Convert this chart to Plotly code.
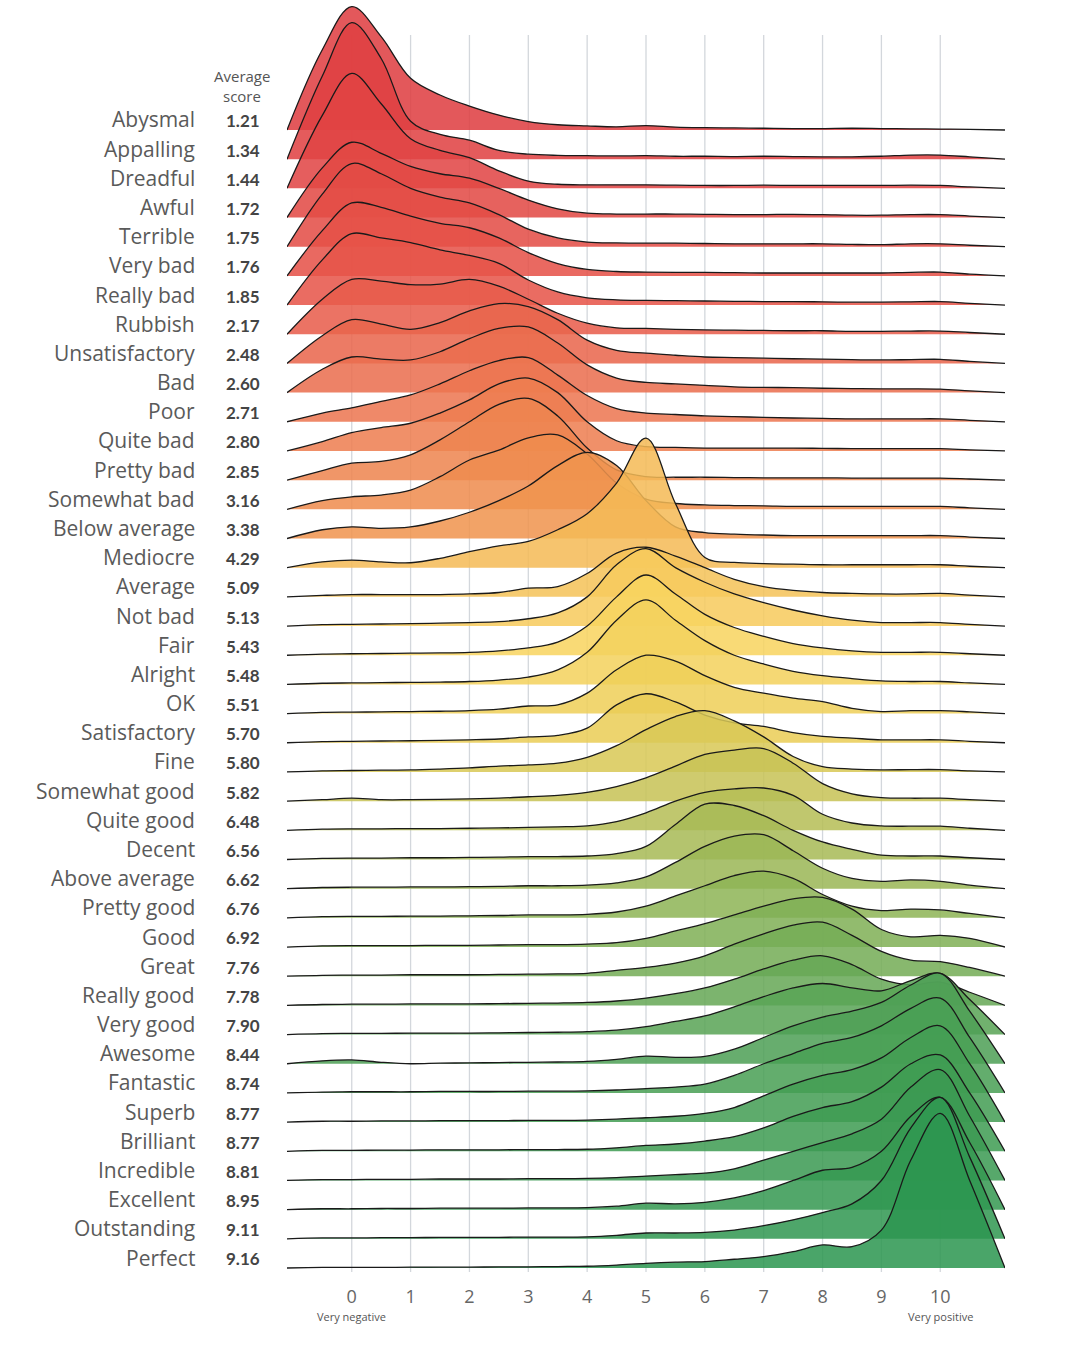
import plotly.graph_objects as go

# ---------------- data ----------------
words = ["Abysmal", "Appalling", "Dreadful", "Awful", "Terrible", "Very bad", "Really bad",
         "Rubbish", "Unsatisfactory", "Bad", "Poor", "Quite bad", "Pretty bad", "Somewhat bad",
         "Below average", "Mediocre", "Average", "Not bad", "Fair", "Alright", "OK",
         "Satisfactory", "Fine", "Somewhat good", "Quite good", "Decent", "Above average",
         "Pretty good", "Good", "Great", "Really good", "Very good", "Awesome", "Fantastic",
         "Superb", "Brilliant", "Incredible", "Excellent", "Outstanding", "Perfect"]

avg_scores = ["1.21", "1.34", "1.44", "1.72", "1.75", "1.76", "1.85", "2.17", "2.48", "2.60",
              "2.71", "2.80", "2.85", "3.16", "3.38", "4.29", "5.09", "5.13", "5.43", "5.48",
              "5.51", "5.70", "5.80", "5.82", "6.48", "6.56", "6.62", "6.76", "6.92", "7.76",
              "7.78", "7.90", "8.44", "8.74", "8.77", "8.77", "8.81", "8.95", "9.11", "9.16"]

score_grid = [-1.1, -0.5, 0, 0.5, 1, 1.5, 2, 2.5, 3, 3.5, 4, 4.5, 5, 5.5, 6, 6.5, 7, 7.5,
              8, 8.5, 9, 9.5, 10, 10.5, 11.1]

tick_vals = [0, 1, 2, 3, 4, 5, 6, 7, 8, 9, 10]

# relative density (in units of row spacing) at score_grid, one list per word
dens_abysmal = [0, 2.75, 4.23, 3.2, 1.77, 1.2, 0.82, 0.51, 0.29, 0.18, 0.14, 0.11, 0.15, 0.1, 0.08, 0.07, 0.06, 0.05, 0.05, 0.06, 0.05, 0.04, 0.03, 0.02, 0]
dens_appalling = [0, 2.85, 4.68, 3.45, 1.3, 0.85, 0.65, 0.3, 0.17, 0.13, 0.12, 0.11, 0.12, 0.1, 0.1, 0.09, 0.1, 0.09, 0.08, 0.08, 0.1, 0.14, 0.14, 0.08, 0]
dens_dreadful = [0, 2.5, 3.94, 2.9, 1.7, 1.3, 1.05, 0.6, 0.25, 0.14, 0.12, 0.12, 0.12, 0.11, 0.1, 0.1, 0.11, 0.1, 0.1, 0.1, 0.1, 0.11, 0.1, 0.05, 0]
dens_awful = [0, 1.7, 2.58, 2.2, 1.75, 1.5, 1.35, 1.0, 0.6, 0.3, 0.15, 0.12, 0.12, 0.12, 0.11, 0.1, 0.1, 0.11, 0.1, 0.08, 0.08, 0.1, 0.1, 0.05, 0]
dens_terrible = [0, 1.8, 2.85, 2.5, 2.0, 1.7, 1.5, 1.1, 0.6, 0.3, 0.16, 0.13, 0.12, 0.12, 0.11, 0.1, 0.1, 0.1, 0.1, 0.08, 0.07, 0.1, 0.1, 0.05, 0]
dens_very_bad = [0, 1.55, 2.5, 2.35, 2.05, 1.8, 1.65, 1.3, 0.8, 0.42, 0.22, 0.15, 0.13, 0.12, 0.12, 0.11, 0.1, 0.1, 0.1, 0.1, 0.1, 0.12, 0.13, 0.06, 0]
dens_really_bad = [0, 1.55, 2.45, 2.3, 2.14, 1.89, 1.7, 1.43, 0.86, 0.45, 0.25, 0.18, 0.16, 0.15, 0.14, 0.13, 0.12, 0.12, 0.11, 0.1, 0.1, 0.11, 0.12, 0.06, 0]
dens_rubbish = [0, 1.2, 1.88, 1.82, 1.7, 1.72, 1.88, 1.65, 1.2, 0.72, 0.38, 0.22, 0.2, 0.17, 0.15, 0.14, 0.13, 0.12, 0.12, 0.1, 0.1, 0.11, 0.11, 0.06, 0]
dens_unsatisfactory = [0, 0.95, 1.5, 1.35, 1.17, 1.4, 1.8, 2.05, 1.95, 1.5, 0.8, 0.45, 0.35, 0.28, 0.22, 0.2, 0.18, 0.16, 0.15, 0.13, 0.12, 0.13, 0.14, 0.07, 0]
dens_bad = [0, 0.8, 1.22, 1.15, 1.12, 1.4, 1.85, 2.2, 2.25, 1.7, 0.95, 0.5, 0.35, 0.3, 0.25, 0.2, 0.18, 0.17, 0.15, 0.14, 0.13, 0.13, 0.12, 0.06, 0]
dens_poor = [0, 0.3, 0.48, 0.7, 0.92, 1.3, 1.75, 2.1, 2.2, 1.6, 0.9, 0.45, 0.3, 0.25, 0.2, 0.18, 0.15, 0.13, 0.12, 0.1, 0.1, 0.1, 0.1, 0.05, 0]
dens_quite_bad = [0, 0.32, 0.63, 0.8, 0.95, 1.3, 1.75, 2.3, 2.5, 2.0, 1.0, 0.35, 0.15, 0.12, 0.1, 0.1, 0.1, 0.1, 0.09, 0.08, 0.08, 0.08, 0.08, 0.04, 0]
dens_pretty_bad = [0, 0.33, 0.58, 0.64, 0.87, 1.38, 2.0, 2.6, 2.8, 2.2, 1.1, 0.35, 0.12, 0.1, 0.1, 0.09, 0.08, 0.08, 0.08, 0.07, 0.07, 0.07, 0.07, 0.04, 0]
dens_somewhat_bad = [0, 0.3, 0.43, 0.49, 0.66, 1.12, 1.69, 2.03, 2.45, 2.55, 1.9, 0.9, 0.35, 0.2, 0.15, 0.13, 0.12, 0.1, 0.1, 0.1, 0.1, 0.1, 0.1, 0.05, 0]
dens_below_average = [0, 0.3, 0.4, 0.35, 0.4, 0.6, 0.9, 1.3, 1.8, 2.5, 2.95, 2.5, 1.3, 0.4, 0.2, 0.15, 0.12, 0.1, 0.1, 0.1, 0.1, 0.1, 0.1, 0.05, 0]
dens_mediocre = [0, 0.2, 0.26, 0.2, 0.17, 0.32, 0.55, 0.75, 0.9, 1.3, 1.85, 2.9, 4.44, 2.2, 0.35, 0.18, 0.14, 0.12, 0.1, 0.1, 0.1, 0.1, 0.1, 0.05, 0]
dens_average = [0, 0.05, 0.08, 0.08, 0.08, 0.08, 0.1, 0.15, 0.3, 0.35, 0.8, 1.5, 1.7, 1.4, 1.0, 0.6, 0.35, 0.22, 0.15, 0.12, 0.1, 0.1, 0.12, 0.06, 0]
dens_not_bad = [0, 0.05, 0.06, 0.07, 0.08, 0.1, 0.12, 0.15, 0.25, 0.45, 1.0, 2.1, 2.65, 2.0, 1.5, 1.1, 0.8, 0.55, 0.35, 0.2, 0.12, 0.12, 0.12, 0.06, 0]
dens_fair = [0, 0.04, 0.05, 0.06, 0.07, 0.08, 0.1, 0.15, 0.25, 0.45, 1.0, 2.0, 2.75, 2.1, 1.4, 0.95, 0.65, 0.4, 0.25, 0.15, 0.1, 0.1, 0.1, 0.05, 0]
dens_alright = [0, 0.04, 0.05, 0.06, 0.07, 0.08, 0.1, 0.15, 0.25, 0.5, 1.1, 2.2, 2.9, 2.2, 1.5, 1.0, 0.7, 0.45, 0.3, 0.2, 0.12, 0.1, 0.1, 0.05, 0]
dens_ok = [0, 0.04, 0.05, 0.06, 0.07, 0.08, 0.1, 0.15, 0.26, 0.3, 0.7, 1.5, 2.0, 1.8, 1.3, 0.9, 0.7, 0.53, 0.41, 0.18, 0.07, 0.1, 0.1, 0.06, 0]
dens_satisfactory = [0, 0.04, 0.05, 0.06, 0.07, 0.08, 0.1, 0.13, 0.2, 0.25, 0.5, 1.3, 1.68, 1.4, 0.95, 0.68, 0.56, 0.35, 0.22, 0.16, 0.1, 0.1, 0.1, 0.05, 0]
dens_fine = [0, 0.04, 0.05, 0.06, 0.07, 0.1, 0.14, 0.2, 0.24, 0.3, 0.5, 0.9, 1.45, 1.9, 2.1, 1.75, 1.2, 0.53, 0.18, 0.1, 0.07, 0.08, 0.08, 0.04, 0]
dens_somewhat_good = [0, 0.05, 0.1, 0.05, 0.05, 0.06, 0.08, 0.1, 0.15, 0.2, 0.3, 0.5, 0.8, 1.2, 1.6, 1.75, 1.8, 1.3, 0.6, 0.25, 0.12, 0.1, 0.1, 0.05, 0]
dens_quite_good = [0, 0.04, 0.05, 0.05, 0.06, 0.06, 0.07, 0.08, 0.1, 0.12, 0.15, 0.3, 0.6, 1.0, 1.3, 1.42, 1.45, 1.2, 0.55, 0.25, 0.15, 0.14, 0.14, 0.07, 0]
dens_decent = [0, 0.04, 0.05, 0.05, 0.06, 0.06, 0.07, 0.08, 0.1, 0.1, 0.12, 0.2, 0.45, 1.2, 1.9, 1.85, 1.5, 1.0, 0.6, 0.35, 0.15, 0.12, 0.12, 0.06, 0]
dens_above_average = [0, 0.04, 0.05, 0.05, 0.06, 0.06, 0.07, 0.08, 0.1, 0.1, 0.12, 0.2, 0.4, 0.9, 1.45, 1.8, 1.85, 1.3, 0.7, 0.35, 0.25, 0.3, 0.25, 0.12, 0]
dens_pretty_good = [0, 0.04, 0.05, 0.05, 0.06, 0.06, 0.07, 0.08, 0.1, 0.1, 0.12, 0.2, 0.4, 0.75, 1.1, 1.45, 1.6, 1.35, 0.8, 0.4, 0.25, 0.3, 0.27, 0.15, 0]
dens_good = [0, 0.04, 0.05, 0.05, 0.05, 0.06, 0.06, 0.07, 0.08, 0.08, 0.1, 0.15, 0.3, 0.55, 0.8, 1.1, 1.4, 1.65, 1.7, 1.3, 0.6, 0.35, 0.4, 0.3, 0]
dens_great = [0, 0.03, 0.04, 0.04, 0.05, 0.05, 0.05, 0.06, 0.07, 0.08, 0.1, 0.2, 0.3, 0.45, 0.7, 1.1, 1.45, 1.75, 1.85, 1.4, 0.85, 0.55, 0.5, 0.3, 0]
dens_really_good = [0, 0.03, 0.04, 0.04, 0.05, 0.05, 0.05, 0.06, 0.07, 0.08, 0.1, 0.15, 0.25, 0.4, 0.6, 0.9, 1.25, 1.55, 1.7, 1.4, 0.9, 0.7, 0.8, 0.45, 0]
dens_very_good = [0, 0.03, 0.04, 0.04, 0.05, 0.05, 0.05, 0.06, 0.07, 0.08, 0.1, 0.15, 0.27, 0.45, 0.64, 0.95, 1.3, 1.6, 1.75, 1.6, 1.5, 1.85, 2.1, 1.2, 0]
dens_awesome = [0, 0.1, 0.13, 0.05, 0.0, 0.02, 0.03, 0.04, 0.05, 0.06, 0.08, 0.15, 0.26, 0.22, 0.25, 0.5, 0.9, 1.3, 1.6, 1.8, 2.1, 2.7, 3.1, 1.8, 0]
dens_fantastic = [0, 0.03, 0.04, 0.04, 0.04, 0.05, 0.05, 0.05, 0.06, 0.06, 0.07, 0.1, 0.15, 0.2, 0.3, 0.6, 1.0, 1.35, 1.7, 1.9, 2.3, 2.9, 3.25, 1.9, 0]
dens_superb = [0, 0.03, 0.03, 0.04, 0.04, 0.05, 0.05, 0.05, 0.06, 0.06, 0.07, 0.1, 0.15, 0.2, 0.3, 0.5, 0.9, 1.3, 1.6, 1.8, 2.2, 2.9, 3.3, 2.0, 0]
dens_brilliant = [0, 0.03, 0.03, 0.04, 0.04, 0.05, 0.05, 0.05, 0.06, 0.06, 0.07, 0.12, 0.2, 0.25, 0.35, 0.5, 0.8, 1.2, 1.5, 1.7, 2.2, 3.0, 3.3, 2.0, 0]
dens_incredible = [0, 0.03, 0.03, 0.04, 0.04, 0.05, 0.05, 0.05, 0.06, 0.06, 0.07, 0.1, 0.15, 0.2, 0.25, 0.4, 0.7, 1.0, 1.3, 1.6, 2.1, 3.2, 3.8, 2.2, 0]
dens_excellent = [0, 0.03, 0.03, 0.04, 0.04, 0.05, 0.05, 0.05, 0.06, 0.06, 0.07, 0.12, 0.22, 0.2, 0.25, 0.4, 0.65, 1.0, 1.35, 1.45, 2.0, 3.2, 3.85, 2.3, 0]
dens_outstanding = [0, 0.03, 0.03, 0.04, 0.04, 0.05, 0.05, 0.05, 0.06, 0.06, 0.07, 0.12, 0.2, 0.2, 0.22, 0.3, 0.45, 0.65, 0.9, 1.2, 2.0, 3.8, 4.85, 2.8, 0]
dens_perfect = [0, 0.02, 0.02, 0.02, 0.03, 0.03, 0.03, 0.04, 0.04, 0.05, 0.06, 0.1, 0.16, 0.2, 0.22, 0.3, 0.39, 0.56, 0.79, 0.73, 1.3, 3.7, 5.3, 3.0, 0]

densities = [dens_abysmal, dens_appalling, dens_dreadful, dens_awful, dens_terrible, dens_very_bad,
             dens_really_bad, dens_rubbish, dens_unsatisfactory, dens_bad, dens_poor, dens_quite_bad,
             dens_pretty_bad, dens_somewhat_bad, dens_below_average, dens_mediocre, dens_average,
             dens_not_bad, dens_fair, dens_alright, dens_ok, dens_satisfactory, dens_fine,
             dens_somewhat_good, dens_quite_good, dens_decent, dens_above_average, dens_pretty_good,
             dens_good, dens_great, dens_really_good, dens_very_good, dens_awesome, dens_fantastic,
             dens_superb, dens_brilliant, dens_incredible, dens_excellent, dens_outstanding,
             dens_perfect]

# ---------------- styling ----------------
color_stops = [(0, (222, 60, 64)), (6, (230, 84, 72)), (10, (236, 118, 80)), (14, (240, 148, 78)),
               (15, (244, 186, 86)), (18, (248, 212, 96)), (21, (234, 205, 86)), (24, (182, 190, 86)),
               (28, (128, 176, 86)), (32, (78, 160, 86)), (39, (44, 150, 80))]


def row_color(i, alpha):
    for (i0, c0), (i1, c1) in zip(color_stops[:-1], color_stops[1:]):
        if i0 <= i <= i1:
            t = (i - i0) / (i1 - i0)
            c = [round(a + (b - a) * t) for a, b in zip(c0, c1)]
            return f"rgba({c[0]},{c[1]},{c[2]},{alpha})"
    return "rgba(0,0,0,1)"


n = len(words)
fig = go.Figure()

for i, (word, dens) in enumerate(zip(words, densities)):
    base = n - 1 - i
    fig.add_trace(go.Scatter(x=[score_grid[0], score_grid[-1]], y=[base, base], mode="lines",
                             line=dict(width=0, color="rgba(0,0,0,0)"), hoverinfo="skip",
                             showlegend=False))
    fig.add_trace(go.Scatter(x=score_grid, y=[base + d for d in dens], mode="lines",
                             line=dict(color="#1a1a1a", width=1.3, shape="spline", smoothing=1.0),
                             fill="tonexty", fillcolor=row_color(i, 0.86), name=word,
                             showlegend=False))

# grid lines (shorter than the plot area, stop below the top)
for v in tick_vals:
    fig.add_shape(type="line", xref="x", yref="paper", x0=v, x1=v, y0=0, y1=0.9725,
                  line=dict(color="#d3d7dc", width=1.3), layer="below")

# row labels + average scores
for i, (word, sc) in enumerate(zip(words, avg_scores)):
    base = n - 1 - i
    fig.add_annotation(x=-0.1253, xref="paper", y=base + 0.36, yref="y", text=word,
                       showarrow=False, xanchor="right", yanchor="middle",
                       font=dict(family="Open Sans", size=21, color="#5a5a5a"))
    fig.add_annotation(x=-0.0878, xref="paper", y=base + 0.31, yref="y", text=f"<b>{sc}</b>",
                       showarrow=False, xanchor="left", yanchor="middle",
                       font=dict(family="Lato", size=17, color="#444444"))

fig.add_annotation(x=-0.0627, xref="paper", y=0.9405, yref="paper", text="Average",
                   showarrow=False, xanchor="center", yanchor="middle",
                   font=dict(family="Open Sans", size=15, color="#555555"))
fig.add_annotation(x=-0.0627, xref="paper", y=0.9245, yref="paper", text="score",
                   showarrow=False, xanchor="center", yanchor="middle",
                   font=dict(family="Open Sans", size=15, color="#555555"))

fig.add_annotation(x=0, xref="x", y=-0.035, yref="paper", text="Very negative", showarrow=False,
                   xanchor="center", yanchor="middle", font=dict(family="Open Sans", size=11, color="#555555"))
fig.add_annotation(x=10, xref="x", y=-0.035, yref="paper", text="Very positive", showarrow=False,
                   xanchor="center", yanchor="middle", font=dict(family="Open Sans", size=11, color="#555555"))

fig.update_layout(
    width=1080, height=1347,
    margin=dict(l=287, r=75, t=0, b=75),
    paper_bgcolor="white", plot_bgcolor="white",
    xaxis=dict(range=[-1.1, 11.1], tickvals=tick_vals, ticktext=[str(v) for v in tick_vals],
               showgrid=False, zeroline=False, showline=False, ticks="",
               tickfont=dict(family="Open Sans", size=18, color="#666666"), ticklabelstandoff=12),
    yaxis=dict(range=[-0.137, 43.455], showgrid=False, zeroline=False, showline=False,
               showticklabels=False, ticks=""),
)

fig.write_html("out.html", config={"displayModeBar": False},
               post_script="document.body.style.margin='0';document.body.style.overflow='hidden';")
